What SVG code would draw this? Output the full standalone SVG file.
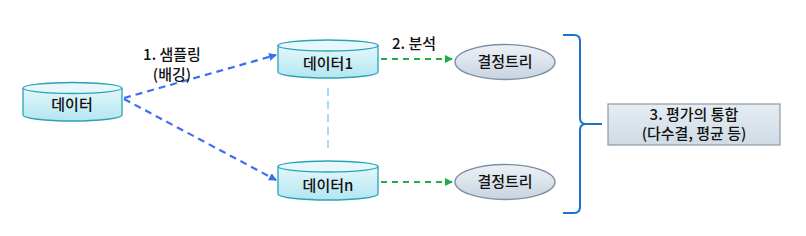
<svg xmlns="http://www.w3.org/2000/svg" width="806" height="236" viewBox="0 0 806 236">
<style>
text{font-family:"Noto Sans CJK KR","Liberation Sans",sans-serif;font-size:15px;fill:#111;text-anchor:middle;font-weight:500}
.cyl{fill:url(#cg);stroke:#2ba3b5;stroke-width:1.3}
.cyltop{fill:#e6f8fc;stroke:#2ba3b5;stroke-width:1.3}
.ell{fill:url(#eg);stroke:#7c8fa3;stroke-width:1.3}
.blue{stroke:#3d6ef2;stroke-width:2.2;stroke-dasharray:7 5;fill:none}
.green{stroke:#21ad4a;stroke-width:2.2;stroke-dasharray:6 5;fill:none}
</style>
<defs>
<linearGradient id="cg" x1="0" y1="0" x2="0" y2="1"><stop offset="0" stop-color="#e4f7fb"/><stop offset="1" stop-color="#b3e6f1"/></linearGradient>
<linearGradient id="eg" x1="0" y1="0" x2="0" y2="1"><stop offset="0" stop-color="#eef2f7"/><stop offset="1" stop-color="#c7d3df"/></linearGradient>
<linearGradient id="bg" x1="0" y1="0" x2="0" y2="1"><stop offset="0" stop-color="#e6edf3"/><stop offset="1" stop-color="#cfdbe5"/></linearGradient>
<marker id="ab" markerWidth="8" markerHeight="8" refX="7" refY="4" orient="auto" markerUnits="userSpaceOnUse"><path d="M0,0 L8,4 L0,8 Z" fill="#3d6ef2"/></marker>
<marker id="ag" markerWidth="8" markerHeight="8" refX="7" refY="4" orient="auto" markerUnits="userSpaceOnUse"><path d="M0,0 L8,4 L0,8 Z" fill="#21ad4a"/></marker>
</defs>
<g id="connectors">
<line class="blue" x1="124" y1="98" x2="276" y2="55" marker-end="url(#ab)"/>
<line class="blue" x1="124" y1="99" x2="276" y2="180" marker-end="url(#ab)"/>
<line class="green" x1="381" y1="59" x2="452" y2="59" marker-end="url(#ag)"/>
<line class="green" x1="381" y1="182" x2="452" y2="182" marker-end="url(#ag)"/>
<line x1="328" y1="88" x2="328" y2="150" stroke="#8dcff0" stroke-width="1.5" stroke-dasharray="8 5"/>
<text x="172" y="60">1. 샘플링</text>
<text x="172" y="80">(배깅)</text>
<text x="414" y="49">2. 분석</text>
</g>
<g id="data">
<path class="cyl" d="M23,88 V115 A49.5,6 0 0 0 122,115 V88"/>
<ellipse class="cyltop" cx="72.5" cy="88" rx="49.5" ry="5.5"/>
<text x="72" y="110">데이터</text>
</g>
<g id="data1">
<path class="cyl" d="M278,45.5 V72 A50,6 0 0 0 378,72 V45.5"/>
<ellipse class="cyltop" cx="328" cy="45.5" rx="50" ry="5.5"/>
<text x="328" y="69">데이터1</text>
</g>
<g id="datan">
<path class="cyl" d="M278,166.5 V194 A50,6 0 0 0 378,194 V166.5"/>
<ellipse class="cyltop" cx="328" cy="166.5" rx="50" ry="5.5"/>
<text x="328" y="191">데이터n</text>
</g>
<g id="tree1">
<ellipse class="ell" cx="505" cy="62" rx="50" ry="17.5"/>
<text x="505" y="67">결정트리</text>
</g>
<g id="tree2">
<ellipse class="ell" cx="505" cy="182" rx="50" ry="17.5"/>
<text x="505" y="187">결정트리</text>
</g>
<g id="brace">
<path d="M563,35 H574 Q580,35 580,41 V118 Q580,124 586,124 H602 M586,124 Q580,124 580,130 V207 Q580,213 574,213 H563" fill="none" stroke="#1b74c9" stroke-width="2"/>
</g>
<g id="combine">
<rect x="608" y="104" width="172" height="41" fill="url(#bg)" stroke="#8d9aa6" stroke-width="1.2"/>
<text x="694" y="120">3. 평가의 통합</text>
<text x="694" y="139">(다수결, 평균 등)</text>
</g>
</svg>
